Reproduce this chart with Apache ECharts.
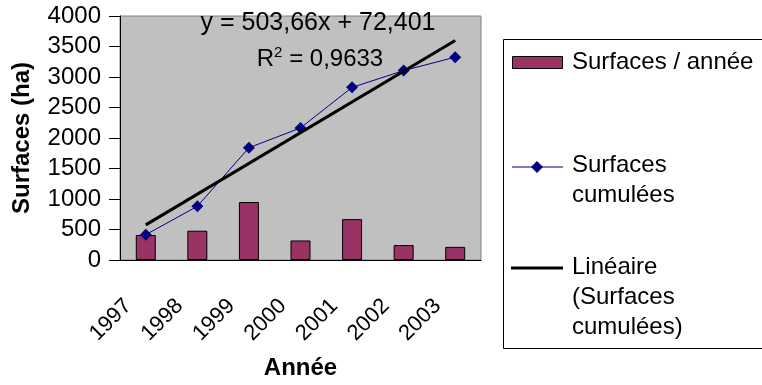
<!DOCTYPE html>
<html>
<head>
<meta charset="utf-8">
<script src="https://cdn.jsdelivr.net/npm/echarts@6/dist/echarts.min.js"></script>
<style>
  html, body { margin: 0; padding: 0; background: #fff; }
  #chart { width: 762px; height: 385px; }
</style>
</head>
<body>
<div id="chart"></div>
<script>
// values
const annees = ['1997', '1998', '1999', '2000', '2001', '2002', '2003'];
const surfacesAnnee = [410, 480, 950, 320, 670, 245, 215];
const surfacesCumulees = [415, 880, 1840, 2165, 2830, 3105, 3325];
// trend line, only its two ends are seen
const lineaire = [576, null, null, null, null, null, 3598];
const equation = 'y = 503,66x + 72,401';
const r2 = '0,9633';

const font = 'Liberation Sans';
const chart = echarts.init(document.getElementById('chart'));

chart.setOption({
  animation: false,
  backgroundColor: '#fff',
  textStyle: { fontFamily: font },
  grid: {
    left: 120, right: 281, top: 16, bottom: 124,
    show: true, backgroundColor: '#c0c0c0', borderColor: '#808080', borderWidth: 1
  },
  xAxis: {
    type: 'category',
    data: annees,
    name: 'Année',
    nameLocation: 'middle',
    nameGap: 96,
    nameTextStyle: { fontFamily: font, fontSize: 24, fontWeight: 'bold', color: '#000' },
    axisLine: { lineStyle: { color: '#000', width: 1 } },
    axisTick: { length: 7, lineStyle: { color: '#000' } },
    axisLabel: {
      rotate: 45, margin: 25, padding: [0, 25, 0, 0],
      fontFamily: font, fontSize: 22, color: '#000'
    },
    splitLine: { show: false }
  },
  yAxis: {
    type: 'value',
    min: 0, max: 4000, interval: 500,
    name: 'Surfaces (ha)',
    nameLocation: 'middle',
    nameGap: 86,
    nameTextStyle: { fontFamily: font, fontSize: 24, fontWeight: 'bold', color: '#000' },
    axisLine: { show: true, lineStyle: { color: '#000', width: 1 } },
    axisTick: { show: true, length: 11, lineStyle: { color: '#000' } },
    axisLabel: {
      margin: 19, fontFamily: font, fontSize: 24, color: '#000',
      formatter: v => String(v)
    },
    splitLine: { show: false }
  },
  series: [
    {
      name: 'Surfaces / année',
      type: 'bar',
      data: surfacesAnnee,
      barWidth: 20,
      itemStyle: { color: '#993366', borderColor: '#000', borderWidth: 1 }
    },
    {
      name: 'Surfaces cumulées',
      type: 'line',
      data: surfacesCumulees,
      symbol: 'diamond',
      symbolSize: 12,
      lineStyle: { color: '#000080', width: 1 },
      itemStyle: { color: '#000080' },
      z: 3
    },
    {
      name: 'Linéaire (Surfaces cumulées)',
      type: 'line',
      data: lineaire,
      connectNulls: true,
      symbol: 'none',
      lineStyle: { color: '#000', width: 3 },
      z: 4
    }
  ],
  graphic: [
    // trend label
    {
      type: 'text', x: 318, y: 23, z: 10,
      style: { text: equation, fontFamily: font, fontSize: 25, fill: '#000', align: 'center', verticalAlign: 'middle' }
    },
    {
      type: 'text', x: 320, y: 59, z: 10,
      style: {
        text: 'R{sup|2} = ' + r2,
        fontFamily: font, fontSize: 24, fill: '#000', align: 'center', verticalAlign: 'middle',
        rich: { sup: { fontFamily: font, fontSize: 15, verticalAlign: 'top', padding: [0, 0, 12, 0] } }
      }
    },
    // legend box
    {
      type: 'rect', z: 10,
      shape: { x: 503.5, y: 39.5, width: 262, height: 309 },
      style: { fill: '#fff', stroke: '#000', lineWidth: 1 }
    },
    {
      type: 'rect', z: 11,
      shape: { x: 512.5, y: 56.5, width: 50, height: 12 },
      style: { fill: '#993366', stroke: '#000', lineWidth: 1 }
    },
    {
      type: 'text', x: 572, y: 47, z: 11,
      style: { text: 'Surfaces / année', fontFamily: font, fontSize: 24, lineHeight: 30, fill: '#000', verticalAlign: 'top' }
    },
    {
      type: 'line', z: 11,
      shape: { x1: 512, y1: 167, x2: 563, y2: 167 },
      style: { stroke: '#000080', lineWidth: 1 }
    },
    {
      type: 'polygon', z: 12,
      shape: { points: [[537, 161], [543, 167], [537, 173], [531, 167]] },
      style: { fill: '#000080' }
    },
    {
      type: 'text', x: 572, y: 150, z: 11,
      style: { text: 'Surfaces\ncumulées', fontFamily: font, fontSize: 24, lineHeight: 30, fill: '#000', verticalAlign: 'top' }
    },
    {
      type: 'line', z: 11,
      shape: { x1: 511, y1: 268, x2: 563, y2: 268 },
      style: { stroke: '#000', lineWidth: 3 }
    },
    {
      type: 'text', x: 572, y: 252, z: 11,
      style: { text: 'Linéaire\n(Surfaces\ncumulées)', fontFamily: font, fontSize: 24, lineHeight: 30, fill: '#000', verticalAlign: 'top' }
    }
  ]
});
</script>
</body>
</html>
